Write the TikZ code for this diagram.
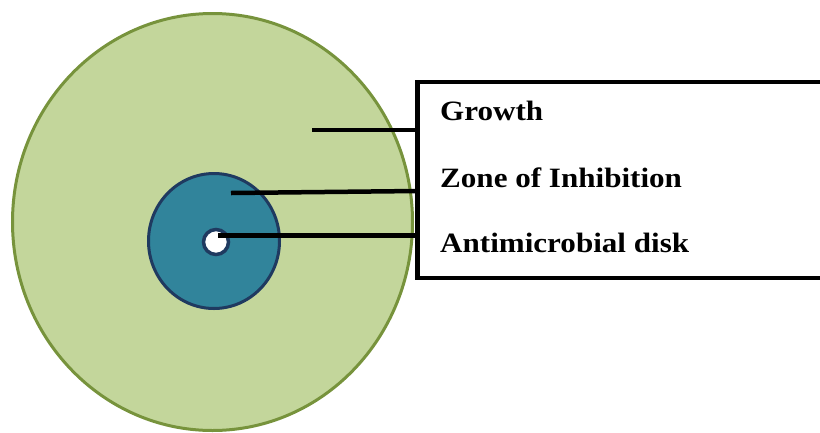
\documentclass[tikz,border=0pt]{standalone}
\usepackage{fontspec}
\setmainfont{Liberation Serif}
\usetikzlibrary{shapes.geometric}
\definecolor{growthfill}{HTML}{C3D69B}
\definecolor{growthborder}{HTML}{77933C}
\definecolor{zonefill}{HTML}{31849B}
\definecolor{zoneborder}{HTML}{1F3A60}
\tikzset{
  leader/.style={draw=black, line width=4.5pt},
  legendbox/.style={draw=black, fill=white, line width=4.5pt, rectangle, inner sep=0pt,
    minimum width=412pt, minimum height=196pt},
  legendtext/.style={anchor=base west, inner sep=0pt, font=\fontsize{28}{30}\selectfont\bfseries}
}
\begin{document}
\begin{tikzpicture}[x=1pt,y=-1pt]
\useasboundingbox (0,0) rectangle (820,432);
\begin{scope}
\clip (0,0) rectangle (820,432);
\node[ellipse, draw=growthborder, fill=growthfill, line width=3pt, inner sep=0pt,
  minimum width=400pt, minimum height=417pt] (growth) at (212.5,222) {};
\node[ellipse, draw=zoneborder, fill=zonefill, line width=3pt, inner sep=0pt,
  minimum width=131pt, minimum height=135pt] (zone) at (214,241) {};
\node[circle, draw=zoneborder, fill=white, line width=3.5pt, inner sep=0pt,
  minimum size=25pt] (disk) at (216,242) {};
\coordinate (gstart) at (312,130);
\coordinate (zstart) at (231,193);
\coordinate (zend) at (417,191);
\coordinate (dstart) at (218,235.5);
\node[legendbox] (box) at (623.5,180) {};
\draw[leader] (gstart) -- (box.west |- gstart);
\draw[leader] (zstart) -- (zend);
\draw[leader] (dstart) -- (box.west |- dstart);
\node[legendbox] (box2) at (623.5,180) {};
\end{scope}
\node[legendtext] (tg) at (440,120.7) {\scalebox{1.11}[1]{Growth}};
\node[legendtext] (tz) at (440,187) {\scalebox{1.11}[1]{Zone of Inhibition}};
\node[legendtext] (td) at (440,252.7) {\scalebox{1.11}[1]{Antimicrobial disk}};
\end{tikzpicture}
\end{document}
